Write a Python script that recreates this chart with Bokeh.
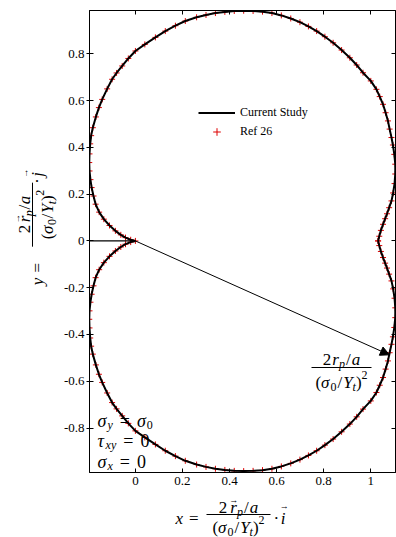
import math
from bokeh.plotting import figure
from bokeh.layouts import column, row
from bokeh.models import (Range1d, LinearAxis, FixedTicker, CustomJSTickFormatter,
                          Arrow, NormalHead, Legend, LegendItem, ColumnDataSource)
from bokeh.core.properties import value, field
from bokeh.embed import file_html
from bokeh.resources import INLINE

# Plastic-zone boundary, upper half (y >= 0): from the notch on the right,
# over the top, round the back lobe and into the crack tip at the origin.
upper_x = [1.031, 1.036, 1.043, 1.052, 1.061, 1.069, 1.078, 1.088, 1.095, 1.101,
           1.104, 1.104, 1.100, 1.094, 1.088, 1.080, 1.073, 1.063, 1.052, 1.038,
           1.024, 1.000, 0.967, 0.940, 0.911, 0.876, 0.840, 0.805, 0.770, 0.735,
           0.699, 0.660, 0.620, 0.580, 0.540, 0.500, 0.460, 0.420, 0.380, 0.340,
           0.300, 0.260, 0.212, 0.170, 0.127, 0.085, 0.040, 0.000, -0.030, -0.056,
           -0.080, -0.099, -0.120, -0.141, -0.155, -0.168, -0.181, -0.188, -0.192, -0.195,
           -0.196, -0.195, -0.191, -0.186, -0.178, -0.169, -0.154, -0.134, -0.110, -0.085,
           -0.062, -0.042, -0.020, 0.000]
upper_y = [0.000, 0.020, 0.045, 0.071, 0.095, 0.116, 0.142, 0.171, 0.205, 0.245,
           0.286, 0.328, 0.370, 0.410, 0.442, 0.478, 0.513, 0.548, 0.584, 0.617,
           0.648, 0.684, 0.719, 0.752, 0.783, 0.816, 0.847, 0.873, 0.897, 0.917,
           0.935, 0.951, 0.964, 0.974, 0.980, 0.983, 0.984, 0.983, 0.979, 0.974,
           0.966, 0.956, 0.940, 0.920, 0.897, 0.870, 0.840, 0.812, 0.780, 0.748,
           0.718, 0.691, 0.650, 0.605, 0.570, 0.530, 0.484, 0.450, 0.415, 0.372,
           0.335, 0.299, 0.262, 0.228, 0.192, 0.157, 0.123, 0.093, 0.066, 0.043,
           0.026, 0.014, 0.005, 0.000]

# crack faces along the negative x axis
crack_x = [-0.195, 0.0]
crack_y = [0.0, 0.0]

# radius vector from the crack tip to the boundary
radius_tip = [1.079, -0.487]

x_ticks = [0.0, 0.2, 0.4, 0.6, 0.8, 1.0]
x_tick_labels = ["0", "0.2", "0.4", "0.6", "0.8", "1"]
y_ticks = [-0.8, -0.6, -0.4, -0.2, 0.0, 0.2, 0.4, 0.6, 0.8]
y_tick_labels = ["-0.8", "-0.6", "-0.4", "-0.2", "0", "0.2", "0.4", "0.6", "0.8"]

X_RANGE = (-0.195, 1.105)
Y_RANGE = (-0.99, 0.985)

FONT = "Liberation Serif"

# closed boundary: the lower half is the mirror image of the upper half
curve_x = upper_x + upper_x[::-1][1:]
curve_y = upper_y + [-v for v in upper_y[::-1][1:]]

# ---- page geometry (pixels) ----
YT_W = 60            # strip holding the rotated y title
MAIN_W, MAIN_H = 336, 491
XT_H = 537 - MAIN_H  # strip holding the x title
F_LEFT, F_TOP, F_W, F_H = 89, 10, 306, 462   # plot frame on the page


def to_data(cx, cy):
    """page pixel -> data coordinates of the main plot"""
    x = X_RANGE[0] + (cx - F_LEFT) * (X_RANGE[1] - X_RANGE[0]) / F_W
    y = Y_RANGE[1] - (cy - F_TOP) * (Y_RANGE[1] - Y_RANGE[0]) / F_H
    return x, y


# ---- simple typesetting of formula pieces ----
ADV = {
    "up": {"0": 0.5, "2": 0.5, "(": 0.333, ")": 0.333, "/": 0.278, "=": 0.564,
           "\u00b7": 0.25, "\u2192": 1.0},
    "it": {"x": 0.444, "y": 0.444, "r": 0.389, "p": 0.5, "a": 0.5, "Y": 0.556,
           "t": 0.278, "i": 0.278, "j": 0.278, "\u03c3": 0.55, "\u03c4": 0.45},
}


def width(items):
    w = 0.0
    for it in items:
        if isinstance(it, (int, float)):
            w += it
        else:
            w += sum(ADV[it[3]][c] for c in it[0]) * it[1]
    return w


def lay(items, along0, base):
    out = []
    a = along0
    for it in items:
        if isinstance(it, (int, float)):
            a += it
            continue
        text, size, shift, style = it[:4]
        out.append((a, base + shift, text, size, style))
        if len(it) > 4:
            out.append((a - 1.0, base + shift - it[4], "\u2192", 9, "up"))
        a += sum(ADV[style][c] for c in text) * size
    return out


def fraction(num, den, center, bar, half, num_drop=8, den_drop=15):
    runs = lay(num, center - width(num) / 2, bar - num_drop)
    runs += lay(den, center - width(den) / 2, bar + den_drop)
    return runs, (center - half, center + half)


def draw_runs(fig, runs, conv, angle=0.0):
    xs, ys, ts, sz, st = [], [], [], [], []
    for a, b, text, size, style in runs:
        x, y = conv(a, b)
        xs.append(x); ys.append(y); ts.append(text)
        sz.append(f"{size}px")
        st.append("italic" if style == "it" else "normal")
    src = ColumnDataSource(dict(x=xs, y=ys, text=ts, size=sz, style=st))
    fig.text("x", "y", text="text", source=src, text_font=value(FONT),
             text_font_size=field("size"), text_font_style=field("style"),
             text_baseline="alphabetic", text_align="left", angle=angle,
             text_color="black")


NUM_R = [("2", 17, 0, "up"), 1, ("r", 17, 0, "it"), ("p", 12, 4, "it"), 1,
         ("/", 17, 0, "up"), 1, ("a", 17, 0, "it")]
NUM_RVEC = [("2", 17, 0, "up"), 3, ("r", 17, 0, "it", 8), ("p", 12, 4, "it"), 1,
            ("/", 17, 0, "up"), 1, ("a", 17, 0, "it")]
DEN = [("(", 17, 0, "up"), ("\u03c3", 17, 0, "it"), ("0", 12, 4, "up"), 1,
       ("/", 17, 0, "up"), 1, ("Y", 17, 0, "it"), ("t", 12, 4, "it"),
       (")", 17, 0, "up"), ("2", 12, -8, "up")]

# ---- main plot ----
p = figure(width=MAIN_W, height=MAIN_H,
           x_range=Range1d(*X_RANGE), y_range=Range1d(*Y_RANGE),
           output_backend="svg", toolbar_location=None,
           min_border_left=F_LEFT - YT_W, min_border_right=MAIN_W - (F_LEFT - YT_W) - F_W,
           min_border_top=F_TOP, min_border_bottom=MAIN_H - F_TOP - F_H)
p.xgrid.visible = False
p.ygrid.visible = False
p.outline_line_color = "black"
p.outline_line_width = 1
p.background_fill_color = "white"
p.border_fill_color = "white"


def style_axis(ax, ticks, labels, tick_out, shown):
    ax.ticker = FixedTicker(ticks=ticks, minor_ticks=[])
    ax.axis_line_color = "black"
    ax.axis_line_width = 1
    ax.major_tick_line_color = "black"
    ax.major_tick_in = 4
    ax.major_tick_out = tick_out
    ax.minor_tick_in = 0
    ax.minor_tick_out = 0
    ax.minor_tick_line_color = None
    if shown:
        ax.major_label_overrides = dict(zip(ticks, labels))
        ax.major_label_text_font = FONT
        ax.major_label_text_font_size = "13px"
        ax.major_label_text_color = "black"
    else:
        ax.formatter = CustomJSTickFormatter(code="return ''")
        ax.major_label_text_font_size = "0px"
        ax.major_label_standoff = 0


style_axis(p.xaxis[0], x_ticks, x_tick_labels, 0, True)
p.xaxis[0].major_label_standoff = 4
style_axis(p.yaxis[0], y_ticks, y_tick_labels, 3, True)
p.yaxis[0].major_label_standoff = 2

top_ax = LinearAxis()
style_axis(top_ax, x_ticks, x_tick_labels, 0, False)
p.add_layout(top_ax, "above")
right_ax = LinearAxis()
style_axis(right_ax, y_ticks, y_tick_labels, 0, False)
p.add_layout(right_ax, "right")

src = ColumnDataSource(dict(x=curve_x, y=curve_y))
pts = p.scatter("x", "y", source=src, marker="cross", size=6,
                line_color="#dd0000", line_width=1)
ln = p.line("x", "y", source=src, line_color="black", line_width=2)
p.line(crack_x, crack_y, line_color="black", line_width=1.2)

p.add_layout(Arrow(end=NormalHead(size=9, fill_color="black", line_color="black",
                                  line_width=1),
                   x_start=0.0, y_start=0.0, x_end=radius_tip[0], y_end=radius_tip[1],
                   line_color="black", line_width=1))

legend = Legend(items=[LegendItem(label="Current Study", renderers=[ln]),
                       LegendItem(label="Ref 26", renderers=[pts])],
                location=(109, 331), orientation="vertical",
                border_line_color=None, background_fill_alpha=0,
                padding=0, margin=0, spacing=0,
                glyph_width=37, glyph_height=19, label_height=19, label_standoff=5,
                label_text_font=FONT, label_text_font_size="12px",
                label_text_color="black")
p.add_layout(legend)

# loading conditions, lower-left corner of the frame
main_runs = []
main_runs += lay([("\u03c3", 18, 0, "it"), ("y", 12, 4, "it"), 7, ("=", 18, 0, "up"), 7,
                  ("\u03c3", 18, 0, "it"), ("0", 12, 4, "up")], 97, 420)
main_runs += lay([("\u03c4", 18, 0, "it"), ("xy", 12, 4, "it"), 7, ("=", 18, 0, "up"), 7,
                  ("0", 18, 0, "up")], 97, 440)
main_runs += lay([("\u03c3", 18, 0, "it"), ("x", 12, 4, "it"), 7, ("=", 18, 0, "up"), 7,
                  ("0", 18, 0, "up")], 97, 461)
# label of the radius vector
frac_runs, (b0, b1) = fraction(NUM_R, DEN, 341, 367, 30)
main_runs += frac_runs
draw_runs(p, main_runs, to_data)
bx0, by = to_data(b0, 367)
bx1, _ = to_data(b1, 367)
p.segment(x0=[bx0], y0=[by], x1=[bx1], y1=[by], line_color="black", line_width=1)

# ---- y title strip (rotated text, page pixels as data) ----
yt = figure(width=YT_W, height=MAIN_H, x_range=Range1d(0, YT_W),
            y_range=Range1d(MAIN_H, 0), output_backend="svg", toolbar_location=None,
            x_axis_location=None, y_axis_location=None, min_border=0)
yt.grid.visible = False
yt.outline_line_color = None

yruns = lay([("y", 17, 0, "it"), 6, ("=", 17, 0, "up")], -292, 37)
fr, (c0, c1) = fraction(NUM_RVEC, DEN, -217, 32, 34)
yruns += fr
yruns += lay([("\u00b7", 17, 0, "up"), 3, ("j", 17, 0, "it", 12.5)], -184, 37)
draw_runs(yt, yruns, lambda a, b: (b, -a), angle=math.pi / 2)
yt.segment(x0=[32], y0=[-c0], x1=[32], y1=[-c1], line_color="black", line_width=1)

# ---- x title strip ----
xt = figure(width=YT_W + MAIN_W, height=XT_H, x_range=Range1d(0, YT_W + MAIN_W),
            y_range=Range1d(MAIN_H + XT_H, MAIN_H), output_backend="svg",
            toolbar_location=None, x_axis_location=None, y_axis_location=None,
            min_border=0)
xt.grid.visible = False
xt.outline_line_color = None

XBAR = 514
xruns = lay([("x", 17, 0, "it"), 6, ("=", 17, 0, "up")], 175, XBAR + 4)
fr, (d0, d1) = fraction(NUM_RVEC, DEN, 238, XBAR, 32, num_drop=7, den_drop=13)
xruns += fr
xruns += lay([("\u00b7", 17, 0, "up"), 3, ("i", 17, 0, "it", 12.5)], 273, XBAR + 4)
draw_runs(xt, xruns, lambda a, b: (a, b))
xt.segment(x0=[d0], y0=[XBAR], x1=[d1], y1=[XBAR], line_color="black", line_width=1)

layout = column(row(yt, p, spacing=0), xt, spacing=0)
open("out.html", "w").write(file_html(layout, INLINE))
